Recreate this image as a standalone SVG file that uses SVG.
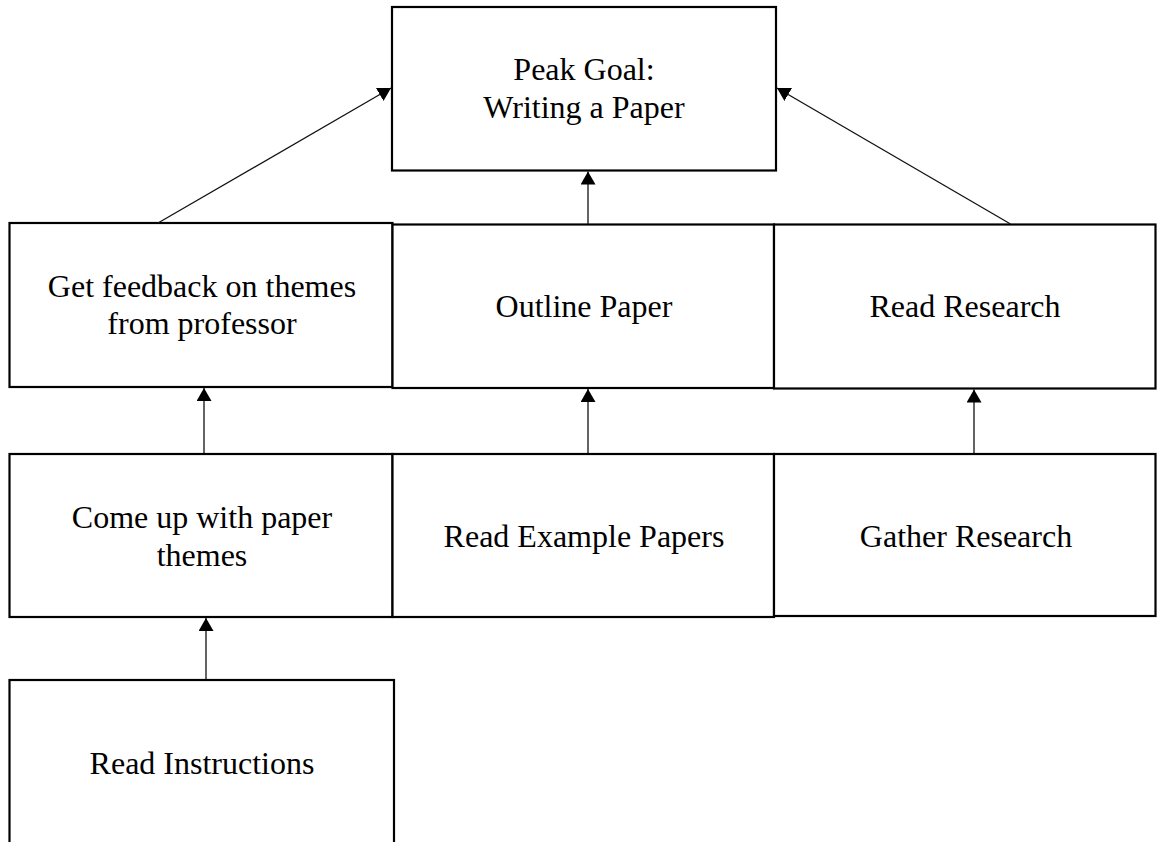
<svg xmlns="http://www.w3.org/2000/svg" width="1157" height="842" viewBox="0 0 1157 842">
<style>
.box{fill:#fff;stroke:#000;stroke-width:2.2}
.lbl{font-family:"Liberation Serif","Times New Roman",serif;font-size:32px;fill:#000;text-anchor:middle}
.con{stroke:#111;stroke-width:1.3;fill:none}
</style>
<defs>
<marker id="arr" markerUnits="userSpaceOnUse" markerWidth="14" markerHeight="15" refX="13" refY="7.5" orient="auto">
<path d="M0,0 L13,7.5 L0,15 z" fill="#000"/>
</marker>
</defs>
<rect width="1157" height="842" fill="#fff"/>
<g id="peak">
<rect class="box" x="392" y="7" width="384" height="163.5"/>
<text class="lbl" x="584" y="80">Peak Goal:</text>
<text class="lbl" x="584" y="118">Writing a Paper</text>
</g>
<g id="feedback">
<rect class="box" x="9.5" y="223" width="383" height="164"/>
<text class="lbl" x="202" y="297">Get feedback on themes</text>
<text class="lbl" x="202" y="334">from professor</text>
</g>
<g id="outline">
<rect class="box" x="392.5" y="224.5" width="381.5" height="163.5"/>
<text class="lbl" x="584" y="317">Outline Paper</text>
</g>
<g id="readresearch">
<rect class="box" x="774" y="224.5" width="381.5" height="164"/>
<text class="lbl" x="965" y="317">Read Research</text>
</g>
<g id="themes">
<rect class="box" x="9.5" y="454" width="383" height="163"/>
<text class="lbl" x="202" y="528">Come up with paper</text>
<text class="lbl" x="202" y="566">themes</text>
</g>
<g id="examples">
<rect class="box" x="392.5" y="454" width="381.5" height="163"/>
<text class="lbl" x="584" y="547">Read Example Papers</text>
</g>
<g id="gather">
<rect class="box" x="774" y="454" width="381.5" height="162"/>
<text class="lbl" x="966" y="547">Gather Research</text>
</g>
<g id="instructions">
<rect class="box" x="9.5" y="680" width="384.5" height="180"/>
<text class="lbl" x="202" y="774">Read Instructions</text>
</g>
<g id="connectors">
<line class="con" x1="158" y1="223" x2="391" y2="88" marker-end="url(#arr)"/>
<line class="con" x1="1010.5" y1="224" x2="777" y2="88" marker-end="url(#arr)"/>
<line class="con" x1="588" y1="224" x2="588" y2="171.5" marker-end="url(#arr)"/>
<line class="con" x1="204" y1="453" x2="204" y2="388" marker-end="url(#arr)"/>
<line class="con" x1="588" y1="453" x2="588" y2="389" marker-end="url(#arr)"/>
<line class="con" x1="974" y1="453" x2="974" y2="389.5" marker-end="url(#arr)"/>
<line class="con" x1="206" y1="679" x2="206" y2="618" marker-end="url(#arr)"/>
</g>
</svg>
